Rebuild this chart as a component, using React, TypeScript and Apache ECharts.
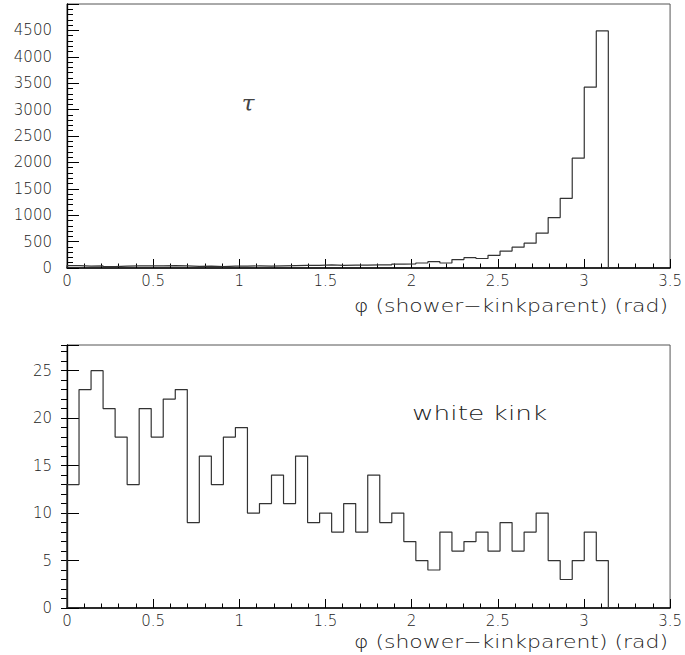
import React, { useEffect, useRef } from "react";
import * as echarts from "echarts";

// Histogram range: 0 .. pi, 45 equal bins
const HIST_MIN = 0;
const HIST_MAX = Math.PI;

// Top panel (tau): entries per bin
const tauCounts = [
  45, 35, 40, 25, 35, 40, 40, 40, 45, 40,
  30, 35, 25, 35, 35, 40, 35, 40, 45, 50,
  50, 60, 50, 55, 55, 60, 60, 75, 80, 95,
  120, 95, 160, 195, 180, 240, 320, 395, 470, 660,
  955, 1320, 2080, 3425, 4490,
];

// Bottom panel (white kink): entries per bin
const whiteKinkCounts = [
  13, 23, 25, 21, 18, 13, 21, 18, 22, 23,
  9, 16, 13, 18, 19, 10, 11, 14, 11, 16,
  9, 10, 8, 11, 8, 14, 9, 10, 7, 5,
  4, 8, 6, 7, 8, 6, 9, 6, 8, 10,
  5, 3, 5, 8, 5,
];

const xAxisTitle = "\u03c6 (shower\u2212kinkparent) (rad)";
const topLabel = "\u03c4";
const bottomLabel = "white kink";

function stepData(counts: number[]): number[][] {
  const w = (HIST_MAX - HIST_MIN) / counts.length;
  const pts: number[][] = [[HIST_MIN, 0]];
  counts.forEach((c, i) => pts.push([HIST_MIN + i * w, c]));
  pts.push([HIST_MAX, counts[counts.length - 1]]);
  pts.push([HIST_MAX, 0]);
  return pts;
}

const FONT = "DejaVu Sans";
const TXT = "#222";
const WEIGHT = 200;

function xAxisCfg(gridIndex: number) {
  return {
    type: "value",
    gridIndex,
    min: 0,
    max: 3.5,
    interval: 0.5,
    axisLine: { show: true, onZero: false, lineStyle: { color: "#000", width: 1.6 } },
    axisTick: { show: true, inside: true, length: 9, lineStyle: { color: "#000", width: 1 } },
    minorTick: { show: true, splitNumber: 5, length: 4.5, lineStyle: { color: "#000", width: 1 } },
    axisLabel: { fontFamily: FONT, fontWeight: WEIGHT, fontSize: 15, color: TXT, margin: 5 },
    splitLine: { show: false },
    minorSplitLine: { show: false },
  };
}

export default function App() {
  const ref = useRef<HTMLDivElement>(null);
  useEffect(() => {
    if (!ref.current) return;
    const chart = echarts.init(ref.current, undefined, { renderer: "svg" });
    const option: any = {
      animation: false,
      backgroundColor: "#fff",
      grid: [
        { left: 67, right: 14, top: 4, height: 264, show: true, borderColor: "#555", borderWidth: 1, containLabel: false },
        { left: 67, right: 14, top: 345, height: 263, show: true, borderColor: "#555", borderWidth: 1, containLabel: false },
      ],
      xAxis: [xAxisCfg(0), xAxisCfg(1)],
      yAxis: [
        {
          type: "value",
          gridIndex: 0,
          min: 0,
          max: 5000,
          interval: 500,
          axisLine: { show: true, onZero: false, lineStyle: { color: "#000", width: 1.3 } },
          axisTick: { show: true, inside: true, length: 12, lineStyle: { color: "#000" } },
          minorTick: { show: true, splitNumber: 5, length: 6, lineStyle: { color: "#000" } },
          axisLabel: {
            fontFamily: FONT, fontWeight: WEIGHT, fontSize: 15, color: TXT, margin: 15,
            formatter: (v: number) => (v >= 5000 ? "" : String(v)),
          },
          splitLine: { show: false },
          minorSplitLine: { show: false },
        },
        {
          type: "value",
          gridIndex: 1,
          min: 0,
          max: 27.7,
          interval: 5,
          axisLine: { show: true, onZero: false, lineStyle: { color: "#000", width: 1.3 } },
          axisTick: { show: true, inside: true, length: 12, lineStyle: { color: "#000" } },
          axisLabel: {
            fontFamily: FONT, fontWeight: WEIGHT, fontSize: 15, color: TXT, margin: 15,
            formatter: (v: number) => (Math.abs(v % 5) < 1e-9 ? String(v) : ""),
          },
          splitLine: { show: false },
        },
        {
          type: "value",
          gridIndex: 1,
          min: 0,
          max: 27.7,
          interval: 1,
          axisLine: { show: false },
          axisTick: { show: true, inside: true, length: 6, lineStyle: { color: "#000" } },
          axisLabel: { show: false },
          splitLine: { show: false },
        },
      ],
      series: [
        {
          type: "line",
          xAxisIndex: 0,
          yAxisIndex: 0,
          step: "end",
          data: stepData(tauCounts),
          showSymbol: false,
          symbol: "none",
          lineStyle: { color: "#333", width: 1.2 },
        },
        {
          type: "line",
          xAxisIndex: 1,
          yAxisIndex: 1,
          step: "end",
          data: stepData(whiteKinkCounts),
          showSymbol: false,
          symbol: "none",
          lineStyle: { color: "#333", width: 1.2 },
        },
      ],
      graphic: [
        {
          type: "text", x: 668, y: 306, scaleX: 1.22,
          style: { text: xAxisTitle, fontFamily: FONT, fontWeight: WEIGHT, fontSize: 18, fill: TXT, align: "right", verticalAlign: "middle" },
        },
        {
          type: "text", x: 668, y: 642, scaleX: 1.22,
          style: { text: xAxisTitle, fontFamily: FONT, fontWeight: WEIGHT, fontSize: 18, fill: TXT, align: "right", verticalAlign: "middle" },
        },
        {
          type: "text", x: 248, y: 103,
          style: { text: topLabel, fontFamily: "DejaVu Serif", fontStyle: "italic", fontSize: 23, fill: "#444", align: "center", verticalAlign: "middle" },
        },
        {
          type: "text", x: 412, y: 413, scaleX: 1.32,
          style: { text: bottomLabel, fontFamily: FONT, fontWeight: WEIGHT, fontSize: 20, fill: TXT, align: "left", verticalAlign: "middle" },
        },
      ],
    };
    chart.setOption(option);
    return () => chart.dispose();
  }, []);
  return (
    <div
      ref={ref}
      style={{ position: "fixed", left: 0, top: 0, width: 685, height: 655, background: "#fff" }}
    />
  );
}
